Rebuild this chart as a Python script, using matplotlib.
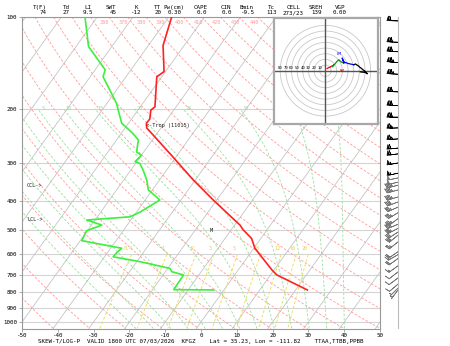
import numpy as np
import matplotlib
matplotlib.use('Agg')
import matplotlib.pyplot as plt

# ---------------- data ----------------
t_pres = [785, 701, 675, 573, 547, 532, 499, 481, 398, 342, 284, 244, 231, 223, 216, 202, 197, 157, 151, 124, 100]
t_temp = [23.3, 11.8, 9.4, 0.3, -1.5, -2.6, -6.6, -8.5, -21.0, -30.6, -41.6, -50.7, -54.0, -55.0, -54.9, -56.4, -55.9, -61.4, -60.4, -65.9, -69.2]

td_pres = [785, 783, 701, 684, 667, 634, 611, 593, 573, 541, 502, 481, 463, 452, 436, 398, 369, 342, 318, 302, 298, 284, 277, 253, 241, 223, 202, 192, 157, 149, 125, 100]
td_temp = [-2.8, -14.1, -14.3, -18.2, -19.4, -29.1, -37.6, -37.4, -36.9, -49.6, -50.2, -47.1, -52.3, -40.9, -39.0, -35.9, -41.1, -43.6, -46.5, -48.8, -50.5, -50.0, -52.0, -53.9, -56.7, -61.9, -65.5, -67.3, -76.4, -77.2, -86.5, -93.4]

wind_p = [785, 774, 751, 717, 685, 654, 619, 601, 588, 546, 519, 507, 493, 478, 458, 438, 420, 404, 389, 369, 356, 348, 337, 325, 301, 281, 269, 251, 231, 213, 195, 176, 154, 141, 130, 121, 103]
wind_u = [3, 5, 7, 8, 9, 11, 14.8, 12, 16, 20, 23.7, 26, 29, 32.5, 29.6, 31, 33.7, 37, 41.4, 44, 46, 48, 50.3, 53, 56, 59, 61, 64, 66, 69, 71, 72, 73, 74, 72, 70, 62]
wind_v = [4, 5, 6, 6, 7, 8, 10.6, 7, 11, 16, 19.5, 17, 15, 13.6, 22.5, 19, 14.8, 14, 12.4, 12, 11.5, 11, 10.6, 12, 10, 8, 6, 4, 2, 0, -2, -3, -4, -5.3, -4, -3, -2]

hdr_names = ['T(F)', 'Td', 'LI', 'SWT', 'K', 'TT', 'Pw(cm)', 'CAPE', 'CIN', 'Bmin', 'Tc', 'CELL', 'SREH', 'VGP']
hdr_vals = ['74', '27', '9.5', '45', '-12', '20', '0.30', '0.0', '0.0', '-9.5', '113', '273/23', '139', '0.00']

isobar_levels = [100, 200, 300, 400, 500, 600, 700, 800, 900, 1000]
x_ticks = [-50, -40, -30, -20, -10, 0, 10, 20, 30, 40, 50]
theta_labels = [360, 370, 380, 390, 400, 410, 420, 430, 440]
thetaw_labels = [5, 10, 15, 20, 25, 30]
mix_ratios = [0.4, 1, 2, 3, 5, 8, 12, 16, 20]
mix_labels = ['0.4', '1', '2', '3', '5', '8', '12', '16', '20']
hodo_rings = [10, 20, 30, 40, 50, 60, 70, 80]

title_text = ('SKEW-T/LOG-P  VALID 1800 UTC 07/03/2026  KFGZ    '
              'Lat = 35.23, Lon = -111.82    TTAA,TTBB,PPBB')

# ---------------- figure ----------------
W, H = 450, 346
fig = plt.figure(figsize=(4.5, 3.46), dpi=100)
MONO = 'DejaVu Sans Mono'


def fr(x0, y0, x1, y1):
    return [x0 / W, 1 - y1 / H, (x1 - x0) / W, (y1 - y0) / H]


S = 61.0


def skx(T, p):
    return np.asarray(T, dtype=float) + S * np.log10(1000.0 / np.asarray(p, dtype=float))


ax = fig.add_axes(fr(22, 17, 380, 328.5))
ax.set_yscale('log')
ax.set_ylim(1050, 100)
ax.set_xlim(-50, 50)

# isobars
for p in isobar_levels:
    ax.axhline(p, color='#d4d4d4', lw=0.8, zorder=1)

# isotherms
pp2 = np.array([1050.0, 100.0])
for T in range(-160, 60, 10):
    ax.plot(skx(T, pp2), pp2, color='#c4c4c4', lw=0.6, zorder=1)

# dry adiabats
pgrid = np.logspace(np.log10(100), np.log10(1050), 80)
for th in range(230, 560, 10):
    T = th * (pgrid / 1000.0) ** 0.2857 - 273.15
    ax.plot(skx(T, pgrid), pgrid, color='#ff9a9a', lw=0.6, ls=(0, (3, 2)), zorder=2)

# moist adiabats
Rd, cp, Lv, eps = 287.04, 1005.7, 2.501e6, 0.622


def es(Tk):
    Tc = Tk - 273.15
    return 6.112 * np.exp(17.67 * Tc / (Tc + 243.5))


def dTdp(Tk, p):
    e = es(Tk)
    rs = eps * e / (p - e)
    return (Rd * Tk + Lv * rs) / (p * (cp + Lv * Lv * rs * eps / (Rd * Tk * Tk)))


def integrate(T0, plist):
    out = [T0]
    T = T0
    for i in range(1, len(plist)):
        p0, p1 = plist[i - 1], plist[i]
        h = p1 - p0
        k1 = dTdp(T, p0)
        k2 = dTdp(T + 0.5 * h * k1, p0 + 0.5 * h)
        k3 = dTdp(T + 0.5 * h * k2, p0 + 0.5 * h)
        k4 = dTdp(T + h * k3, p1)
        T = T + h * (k1 + 2 * k2 + 2 * k3 + k4) / 6
        out.append(T)
    return np.array(out)


p_up = np.arange(1000.0, 199.0, -5.0)
p_dn = np.arange(1000.0, 1051.0, 5.0)
moist_at_200 = {}
for tw in range(-20, 45, 5):
    Tup = integrate(tw + 273.15, p_up)
    Tdn = integrate(tw + 273.15, p_dn)
    pp = np.concatenate([p_dn[::-1], p_up[1:]])
    TT = np.concatenate([Tdn[::-1], Tup[1:]]) - 273.15
    ax.plot(skx(TT, pp), pp, color='#9be09b', lw=0.6, ls=(0, (3, 2)), zorder=2)
    moist_at_200[tw] = Tup[-1] - 273.15

for tw in thetaw_labels:
    ax.text(skx(moist_at_200[tw], 200) + 1.5, 200, str(tw), color='#9be09b', fontsize=3.8,
            ha='center', va='center', family=MONO, zorder=3)

# mixing ratio lines
p_mr = np.logspace(np.log10(600), np.log10(1050), 20)
for w, lab in zip(mix_ratios, mix_labels):
    e = (w / 1000.0) * p_mr / (eps + w / 1000.0)
    lnr = np.log(e / 6.112)
    Tc = 243.5 * lnr / (17.67 - lnr)
    ax.plot(skx(Tc, p_mr), p_mr, color='#f0e060', lw=0.7, ls=(0, (3, 2)), zorder=2)
    ax.text(skx(Tc[0], 600) - 1.0, 572, lab, color='#e8d050', fontsize=3.8,
            ha='center', va='center', family=MONO, zorder=3)

# dry adiabat labels
for th in theta_labels:
    T = th * (104 / 1000.0) ** 0.2857 - 273.15
    ax.text(skx(T, 104) - 2.4, 104, str(th), color='#ff9a9a', fontsize=3.8,
            ha='center', va='center', family=MONO, zorder=3)

# profiles
ax.plot(skx(td_temp, td_pres), td_pres, color='#3cf03c', lw=1.2, zorder=5)
ax.plot(skx(t_temp, t_pres), t_pres, color='#ff2020', lw=1.2, zorder=5)

# annotations
ax.text(-48.6, 358, 'CCL->', fontsize=3.8, family=MONO, va='center', color='#222222', zorder=6)
ax.text(-48.6, 461, 'LCL->', fontsize=3.8, family=MONO, va='center', color='#222222', zorder=6)
ax.text(-15.3, 226, '<-Trop (11015)', fontsize=3.8, family=MONO, va='center', color='#222222', zorder=6)
ax.text(2.8, 500, 'M', fontsize=3.8, family=MONO, va='center', ha='center', color='#222222', zorder=6)

ax.set_xticks(x_ticks)
ax.set_xticklabels([str(v) for v in x_ticks], family=MONO, fontsize=4.2)
ax.set_yticks(isobar_levels)
ax.set_yticklabels([str(v) for v in isobar_levels], family=MONO, fontsize=4.2)
ax.minorticks_off()
ax.tick_params(length=2, width=0.5, color='#888888', pad=1.5)
for sp in ax.spines.values():
    sp.set_color('#999999')
    sp.set_linewidth(0.8)

# header
name_x = [40, 66.7, 88.3, 111, 136, 157.7, 174, 201, 225.7, 247, 271.7, 293.3, 316, 340]
val_x = [42.7, 65.7, 88.3, 112.7, 136, 157.7, 175, 202, 226.7, 248.3, 271.7, 293.3, 316.7, 340]
for n, v, xn, xv in zip(hdr_names, hdr_vals, name_x, val_x):
    fig.text(xn / W, 1 - 7.3 / H, n, fontsize=4.2, family=MONO, ha='center', va='center')
    fig.text(xv / W, 1 - 12.9 / H, v, fontsize=4.2, family=MONO, ha='center', va='center')

fig.text(38 / W, 1 - 342 / H, title_text, fontsize=4.2, family=MONO, ha='left', va='center')

# ---------------- hodograph ----------------
hx = fig.add_axes(fr(274, 18, 378, 123.5), zorder=10)
hx.set_facecolor('white')
hx.set_xlim(-91, 93)
hx.set_ylim(-93, 93)
hx.set_xticks([])
hx.set_yticks([])
for sp in hx.spines.values():
    sp.set_color('#a8a8a8')
    sp.set_linewidth(1.6)
ang = np.linspace(0, 2 * np.pi, 200)
for r in hodo_rings:
    hx.plot(r * np.cos(ang), r * np.sin(ang), color='#c8c8c8', lw=0.6)
hx.axhline(0, color='#555555', lw=1.0)
hx.axvline(0, color='#555555', lw=1.0)
for r in hodo_rings:
    hx.text(-r, 1.5, str(r), fontsize=2.8, family=MONO, ha='center', va='bottom')

wp = np.array(wind_p)
wu = np.array(wind_u)
wv = np.array(wind_v)
bands = [(620, 2000, 'red'), (477, 620, '#109010'), (336, 479, 'blue'), (0, 338, 'black')]
for lo, hi, c in bands:
    m = (wp >= lo) & (wp <= hi)
    hx.plot(wu[m], wv[m], color=c, lw=0.9)
hx.text(25, 30, 'LM', color='blue', fontsize=3.0, family=MONO, ha='center', va='center')
hx.text(30, -1, 'RM', color='red', fontsize=3.0, family=MONO, ha='center', va='center')

# ---------------- wind barbs ----------------
bx = fig.add_axes(fr(380, 17, 404, 328.5))
bx.set_yscale('log')
bx.set_ylim(1050, 100)
bx.set_xlim(-1, 1 / 3)
bx.axis('off')
bx.axvline(0, color='#bbbbbb', lw=0.8)
blk = wp <= 326
bx.barbs(np.zeros(blk.sum()), wp[blk], wu[blk], wv[blk], length=4.0, color='black',
         lw=0.5, pivot='tip', clip_on=False)
bx.barbs(np.zeros((~blk).sum()), wp[~blk], wu[~blk], wv[~blk], length=4.0, color='#777777',
         lw=0.5, pivot='tip', clip_on=False)

fig.savefig('out.png', dpi=100)
